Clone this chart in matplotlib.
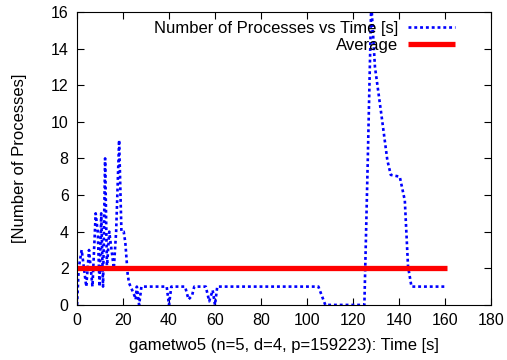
import matplotlib
matplotlib.use("Agg")
import matplotlib.pyplot as plt

plt.rcParams['font.family'] = ['Liberation Sans', 'DejaVu Sans']

time_s = [0, 0.7, 2, 3, 4, 5.2, 6.7, 8.1, 9, 9.8, 10.5, 11.3, 12.2, 13, 14, 15, 16, 17, 18.3, 19.3, 20.3, 21, 22, 22.6, 24, 25, 25.5, 26, 27, 28,
          39, 40, 41, 47, 48.5, 50, 51, 56, 57.5, 59, 60, 61,
          105, 106.5, 108, 125, 126.5, 128, 129.6, 132.5, 135, 136.5, 140.4, 142.6, 144, 145.5, 161]
processes = [0, 2, 3, 2, 1, 3, 1, 5, 4, 1, 5, 1, 8, 2, 4, 3, 2, 4, 9, 4, 4, 3.4, 1.7, 1.2, 0.8, 0.5, 0.3, 1, 0, 1,
             1, 0, 1, 1, 0.3, 0.5, 1, 1, 0.2, 0.8, 0, 1,
             1, 0.5, 0, 0, 8, 16.5, 13, 10.3, 7.9, 7.1, 7.0, 5.7, 2.1, 1, 1]
avg_time = [0, 161]
avg_value = [2, 2]

fig = plt.figure(figsize=(5.07, 3.6), dpi=100)
ax = fig.add_axes([0.152, 0.153, 0.816, 0.814])

ax.plot(time_s, processes, color='#0000ff', lw=1.9, linestyle=(0, (1.1, 1.1)),
        label='Number of Processes vs Time [s]')
ax.plot(avg_time, avg_value, color='#ff0000', lw=3.8, label='Average', solid_capstyle='butt')

ax.set_xlim(0, 180)
ax.set_ylim(0, 16)
ax.set_xticks(range(0, 181, 20))
ax.set_yticks(range(0, 17, 2))
ax.tick_params(direction='in', top=True, right=True, length=5, labelsize=11.5, pad=6)
ax.set_xlabel('gametwo5 (n=5, d=4, p=159223): Time [s]', fontsize=12, labelpad=7)
ax.set_ylabel('[Number of Processes]', fontsize=12, labelpad=17)

leg = ax.legend(loc='upper right', bbox_to_anchor=(0.913, 0.97), markerfirst=False,
                frameon=False, fontsize=12, borderpad=0, borderaxespad=0,
                handlelength=2.8, labelspacing=0.12, handletextpad=0.6)

fig.savefig('out.png', dpi=100)
